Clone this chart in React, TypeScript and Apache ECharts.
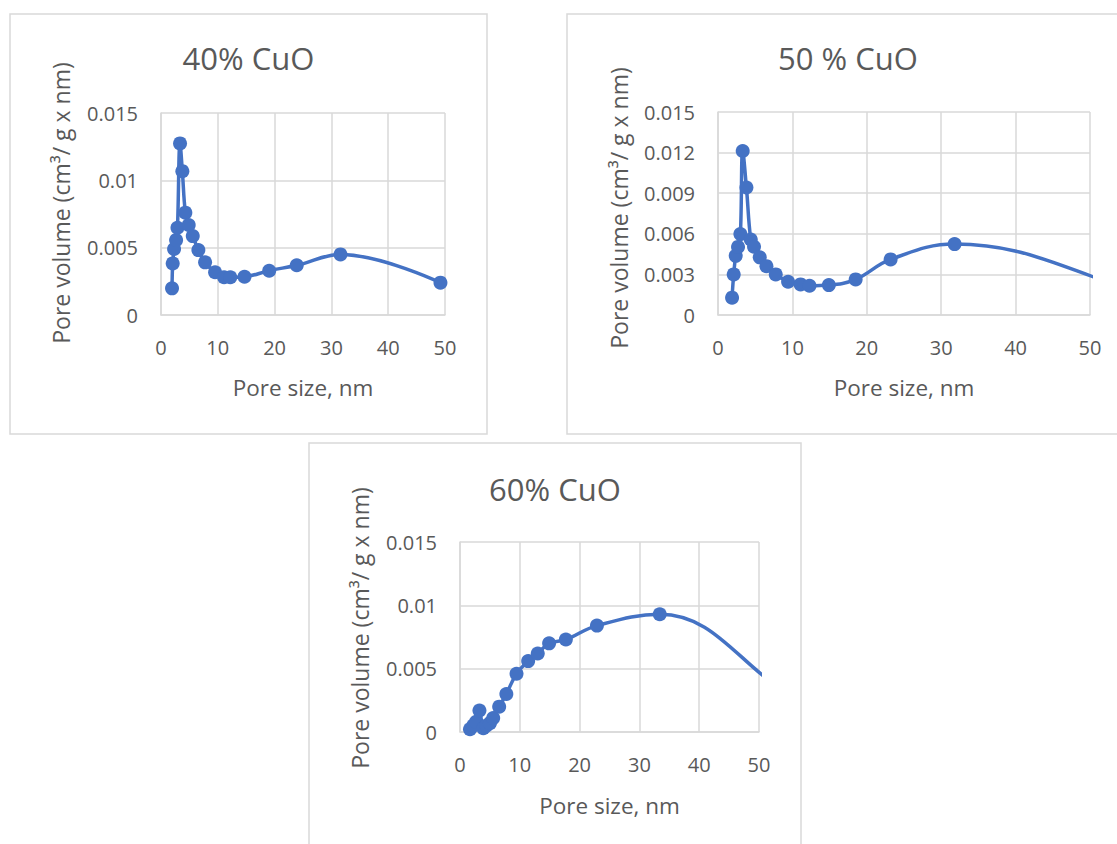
import React, { useEffect, useRef } from "react";
import * as echarts from "echarts";

// ---- Data ----
const xTickValues = [0, 10, 20, 30, 40, 50];

const poreSize40 = [1.94, 2.06, 2.3, 2.65, 2.9, 3.35, 3.76, 4.29, 4.88, 5.59, 6.58, 7.76, 9.52, 11.1, 12.2, 14.7, 19.05, 23.9, 31.6, 49.2];
const poreVol40 = [0.00198, 0.00383, 0.0049, 0.00556, 0.00648, 0.01274, 0.01068, 0.0076, 0.00668, 0.00586, 0.00482, 0.00391, 0.00317, 0.0028, 0.0028, 0.00284, 0.00329, 0.00369, 0.0045, 0.0024];

// the last two points lie beyond the 50 nm axis limit (clipped, as in the reference)
const poreSize50 = [1.89, 2.11, 2.38, 2.69, 3.01, 3.32, 3.82, 4.4, 4.84, 5.61, 6.51, 7.76, 9.42, 11.1, 12.3, 14.9, 18.5, 23.2, 31.8, 60, 75];
const poreVol50 = [0.00128, 0.003, 0.00437, 0.00503, 0.00598, 0.01212, 0.00942, 0.00558, 0.00504, 0.00426, 0.00361, 0.003, 0.00246, 0.00226, 0.00216, 0.00221, 0.00263, 0.00411, 0.00524, 0.0013, 0.0005];

const poreSize60 = [1.67, 2.2, 2.7, 3.25, 3.9, 4.4, 5.0, 5.55, 6.55, 7.75, 9.45, 11.4, 13.0, 14.9, 17.7, 22.9, 33.4, 57, 72];
const poreVol60 = [0.00022, 0.0005, 0.0008, 0.0017, 0.0003, 0.0005, 0.0007, 0.0011, 0.002, 0.003, 0.0046, 0.0056, 0.0062, 0.007, 0.0073, 0.0084, 0.0093, 0.0025, 0.0006];

const titles = ["40% CuO", "50 % CuO", "60% CuO"];
const yMaxes = [0.015, 0.015, 0.015];
const yIntervals = [0.005, 0.003, 0.005];
const xAxisTitle = "Pore size, nm";
const yAxisTitle = "Pore volume (cm³/ g x nm)";

// ---- Layout ----
const FONT = "Open Sans";
const TEXT = "#595959";
const GRIDC = "#d9d9d9";
const BLUE = "#4472c4";

const panels = [
  { box: [10, 14, 477, 420], grid: [161, 113, 284, 202], title: [248.5, 58], yTitle: [61, 203], xTitle: [303, 387] },
  { box: [567, 14, 560, 420], grid: [718, 112, 372, 203], title: [848, 58], yTitle: [619, 208], xTitle: [904, 387] },
  { box: [309, 443, 492, 430], grid: [460, 542, 299, 190], title: [555, 489], yTitle: [360, 628], xTitle: [609.5, 805] },
];

const seriesData = [
  poreSize40.map((x, i) => [x, poreVol40[i]]),
  poreSize50.map((x, i) => [x, poreVol50[i]]),
  poreSize60.map((x, i) => [x, poreVol60[i]]),
];

function fmt(v: number) {
  return String(parseFloat(v.toFixed(4)));
}

export default function App() {
  const ref = useRef<HTMLDivElement>(null);
  useEffect(() => {
    if (!ref.current) return;
    const chart = echarts.init(ref.current, null, { renderer: "svg" });
    const graphics: any[] = [];
    panels.forEach((p, i) => {
      graphics.push({
        type: "rect",
        shape: { x: p.box[0], y: p.box[1], width: p.box[2], height: p.box[3] },
        style: { fill: "none", stroke: GRIDC, lineWidth: 1.5 },
        z: 0,
      });
      graphics.push({
        type: "text",
        x: p.title[0],
        y: p.title[1],
        style: { text: titles[i], fontSize: 31, fontFamily: FONT, fill: TEXT, align: "center", verticalAlign: "middle" },
      });
      graphics.push({
        type: "text",
        x: p.xTitle[0],
        y: p.xTitle[1],
        style: { text: xAxisTitle, fontSize: 22.5, fontFamily: FONT, fill: TEXT, align: "center", verticalAlign: "middle" },
      });
      graphics.push({
        type: "text",
        x: p.yTitle[0],
        y: p.yTitle[1],
        rotation: Math.PI / 2,
        style: { text: yAxisTitle, fontSize: 23, fontFamily: FONT, fill: TEXT, align: "center", verticalAlign: "middle" },
      });
    });

    const option: any = {
      animation: false,
      backgroundColor: "#ffffff",
      textStyle: { fontFamily: FONT },
      grid: panels.map((p) => ({
        left: p.grid[0],
        top: p.grid[1],
        width: p.grid[2],
        height: p.grid[3],
        containLabel: false,
      })),
      xAxis: panels.map((_, i) => ({
        gridIndex: i,
        type: "value",
        min: xTickValues[0],
        max: xTickValues[xTickValues.length - 1],
        interval: xTickValues[1] - xTickValues[0],
        axisLine: { show: true, lineStyle: { color: GRIDC, width: 1.5 } },
        axisTick: { show: false },
        splitLine: { show: true, lineStyle: { color: GRIDC, width: 1.5 } },
        axisLabel: { color: TEXT, fontSize: 20, fontFamily: FONT, margin: 22 },
      })),
      yAxis: panels.map((_, i) => ({
        gridIndex: i,
        type: "value",
        min: 0,
        max: yMaxes[i],
        interval: yIntervals[i],
        axisLine: { show: true, lineStyle: { color: GRIDC, width: 1.5 } },
        axisTick: { show: false },
        splitLine: { show: true, lineStyle: { color: GRIDC, width: 1.5 } },
        axisLabel: { color: TEXT, fontSize: 20, fontFamily: FONT, margin: 23, formatter: (v: number) => fmt(v) },
      })),
      series: seriesData.map((d, i) => ({
        type: "line",
        xAxisIndex: i,
        yAxisIndex: i,
        data: d,
        smooth: 0.4,
        symbol: "circle",
        symbolSize: 14,
        showAllSymbol: true,
        clip: true,
        lineStyle: { color: BLUE, width: 3.5 },
        itemStyle: { color: BLUE },
      })),
      graphic: graphics,
    };
    chart.setOption(option);
    return () => chart.dispose();
  }, []);
  return (
    <div
      ref={ref}
      style={{ position: "absolute", left: 0, top: 0, width: 1117, height: 844, background: "#ffffff" }}
    />
  );
}
